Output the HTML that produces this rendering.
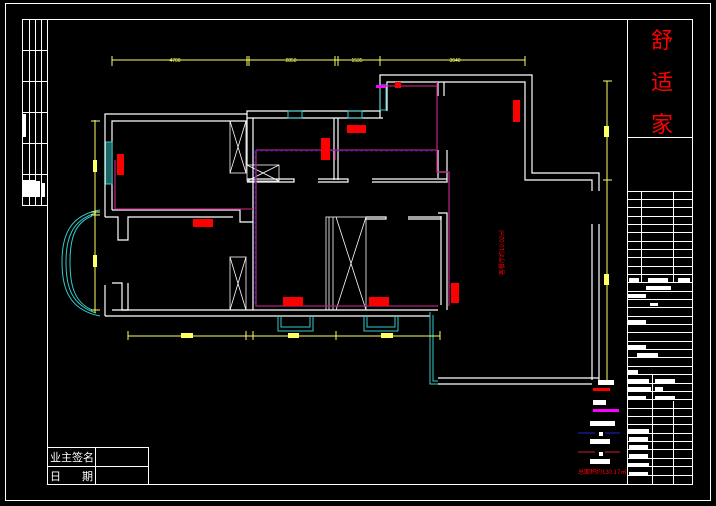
<!DOCTYPE html>
<html><head><meta charset="utf-8"><style>
html,body{margin:0;padding:0;background:#000;}
svg{display:block;}
text{font-family:"Liberation Sans","Noto Sans CJK SC",sans-serif;}
</style></head><body>
<svg width="716" height="506" viewBox="0 0 716 506" xmlns="http://www.w3.org/2000/svg">
<rect width="716" height="506" fill="#000"/>
<g fill="none" stroke="#fff" stroke-width="1">
<rect x="5.5" y="3.5" width="705" height="497"/>
<rect x="47.5" y="19.5" width="645" height="465"/>
<!-- left strip -->
<rect x="22.5" y="19.5" width="25" height="186"/>
<path d="M29.5 19.5V205.5M35.5 19.5V205.5M41.5 19.5V205.5M22.5 50.5H47.5M22.5 81.5H47.5M22.5 112.5H47.5M22.5 143.5H47.5M22.5 174.5H47.5"/>
<!-- title block -->
<path d="M627.5 19.5V484.5M627.5 137.5H692.5M627.5 191.5H692.5"/>
<path d="M641.5 191.5V282M673.5 191.5V282"/>
<path d="M627.5 199.5H692.5M627.5 207.5H692.5M627.5 216.5H692.5M627.5 224.5H692.5M627.5 232.5H692.5M627.5 241.5H692.5M627.5 249.5H692.5M627.5 257.5H692.5M627.5 266.5H692.5M627.5 274.5H692.5M627.5 282.5H692.5M627.5 291.5H692.5M627.5 299.5H692.5M627.5 307.5H692.5M627.5 316.5H692.5M627.5 324.5H692.5M627.5 332.5H692.5M627.5 341.5H692.5M627.5 349.5H692.5M627.5 357.5H692.5M627.5 366.5H692.5M627.5 374.5H692.5M627.5 383.5H692.5M627.5 391.5H692.5M627.5 399.5H692.5M627.5 408.5H692.5M627.5 416.5H692.5M627.5 424.5H692.5M627.5 433.5H692.5M627.5 441.5H692.5M627.5 449.5H692.5M627.5 458.5H692.5M627.5 466.5H692.5M627.5 475.5H692.5"/>
<path d="M652.5 374.5V484.5M673.5 401V484.5"/>
<!-- bottom-left table -->
<rect x="47.5" y="447.5" width="101" height="37"/>
<path d="M47.5 466.5H148.5M95.5 447.5V484.5"/>
</g>
<g fill="#fff">
<rect x="22" y="114" width="4" height="23"/>
<rect x="22" y="180" width="13" height="17"/><rect x="36" y="181" width="4" height="16"/><rect x="41" y="183" width="4" height="14"/>
<rect x="629" y="278" width="10" height="4"/><rect x="648" y="278" width="20" height="4"/><rect x="678" y="278" width="12" height="4"/>
<rect x="646" y="286" width="25" height="4"/><rect x="628" y="294" width="18" height="4"/><rect x="650" y="303" width="8" height="3"/>
<rect x="628" y="320" width="18" height="4"/><rect x="628" y="345" width="18" height="4"/><rect x="637" y="353" width="21" height="4"/>
<rect x="628" y="370" width="10" height="4"/><rect x="628" y="379" width="21" height="4"/><rect x="655" y="379" width="20" height="4"/>
<rect x="628" y="387" width="23" height="4"/><rect x="655" y="387" width="8" height="4"/><rect x="628" y="396" width="18" height="4"/><rect x="655" y="396" width="20" height="4"/>
<rect x="627" y="429" width="22" height="4"/><rect x="629" y="437" width="19" height="4"/><rect x="629" y="445" width="19" height="4"/><rect x="629" y="454" width="19" height="4"/><rect x="627" y="463" width="22" height="4"/><rect x="629" y="472" width="19" height="4"/>
<rect x="598" y="380" width="16" height="5"/><rect x="593" y="400" width="13" height="5"/><rect x="590" y="421" width="25" height="5"/><rect x="590" y="439" width="20" height="5"/><rect x="590" y="459" width="20" height="5"/>
<rect x="599" y="432" width="4" height="4"/><rect x="599" y="452" width="4" height="4"/>
</g>
<g fill="#f00" font-family="'Liberation Serif','Noto Serif CJK SC',serif" font-size="22" text-anchor="middle">
<text x="662" y="48">舒</text><text x="662" y="90">适</text><text x="662" y="132">家</text>
</g>
<g fill="#fff" font-size="11">
<text x="50" y="461">业主签名</text><text x="50" y="480">日</text><text x="82" y="480">期</text>
</g>
<!-- walls -->
<g fill="none" stroke="#fff" stroke-width="1.2">
<path d="M105 212V114H247V111H380V75H532V173H599V191"/>
<path d="M112 210V121H247M247 118H383M387 111V82H525V180H592V191"/>
<path d="M247 114V165M253 118V310M380 111V118"/>
<path d="M105 316H430M112 310H253M105 217H118V240H128V217H233M112 210H240V222H253"/>
<path d="M105 212V217M105 285V316M112 283H122V310H128V283"/>
<path d="M253 310H438M334 118V180M338 118V180M247 179H294V182H247M318 179H348V182H318M372 179H447V182H372M438 150V178M447 150V182M438 172H447"/>
<path d="M438 213H447V310M441 216V305"/>
<path d="M366 217H386V219H366M408 217H441V219H408"/>
<path d="M592 224V380M599 224V380M438 378H599M438 384H592"/>
<path d="M438 82V96M444 82V96"/>
</g>
<g fill="none" stroke="#fff" stroke-width="0.8">
<rect x="230" y="121" width="16" height="52"/><path d="M230 121L246 173M246 121L230 173"/>
<rect x="247" y="165" width="32" height="16"/><path d="M247 165L279 181M279 165L247 181"/>
<rect x="230" y="257" width="16" height="53"/><path d="M230 257L246 310M246 257L230 310"/>
<rect x="326" y="217" width="40" height="93"/><path d="M336 217L366 310M366 217L336 310M329 217V310M333 217V310"/>
</g>
<!-- cyan -->
<g fill="none" stroke="#3cc" stroke-width="1">
<rect x="106" y="142" width="6" height="42"/><path d="M108 142V184M110 142V184"/>
<rect x="288" y="111" width="14" height="7"/><rect x="348" y="111" width="14" height="7"/><rect x="380" y="85" width="6" height="25"/>
<path d="M100 210C70 215 62 235 62 262C62 290 70 310 100 316M96 213C72 220 66 238 66 262C66 288 72 305 96 313M92 216C74 223 70 240 70 262C70 285 74 302 92 310"/>
<path d="M278 316V331H313V316M281 316V327H310V316M364 316V331H398V316M367 316V327H395V316"/>
<path d="M430 312V384H438M433 315V381H438"/>
</g>
<!-- pipes -->
<g fill="none" stroke-width="1.3">
<path d="M115 160V209H253M256 150H437M256 150V306H438V306M437 82V172H449V306M386 86H437M335 150V160" stroke="#b0207a"/>
<path d="M255 151V305M255 151H436" stroke="#22c" stroke-dasharray="3 2" stroke-width="0.8"/>
</g>
<!-- red units -->
<g fill="#f00">
<rect x="117" y="154" width="7" height="21"/><rect x="193" y="219" width="20" height="8"/>
<rect x="283" y="297" width="20" height="9"/><rect x="369" y="297" width="20" height="9"/>
<rect x="321" y="138" width="9" height="22"/><rect x="347" y="125" width="19" height="8"/>
<rect x="513" y="100" width="7" height="22"/><rect x="451" y="283" width="8" height="20"/>
<rect x="395" y="82" width="6" height="6"/><rect x="593" y="388" width="17" height="3"/>
</g>
<rect x="376" y="85" width="10" height="3" fill="#f0f"/><rect x="593" y="409" width="26" height="3" fill="#f0f"/>
<path d="M578 433H595M605 433H620" stroke="#22c"/><path d="M578 452H595M605 452H620" stroke="#c22"/>
<text x="578" y="474" fill="#f00" font-size="6">总面积约130.17㎡</text>
<text x="504" y="275" fill="#f00" font-size="6" transform="rotate(-90 504 275)">客餐厅约10.02㎡</text>
<!-- dims -->
<g stroke="#ff6" fill="none" stroke-width="1">
<path d="M112 60H525M112 56V66M247 56V66M249 56V66M335 56V66M338 56V66M380 56V66M525 56V66"/>
<path d="M95 120V313M91 121H100M91 212H100M91 215H100M91 310H100"/>
<path d="M607 81V380M603 81H612M603 180H612"/>
<path d="M128 336H440M128 331V340M246 331V340M253 331V340M336 331V340M440 331V340"/>
</g>
<g fill="#ff6">
<rect x="181" y="333" width="12" height="5"/><rect x="288" y="333" width="11" height="5"/><rect x="381" y="333" width="12" height="5"/>
<rect x="604" y="126" width="5" height="11"/><rect x="604" y="274" width="5" height="11"/>
<rect x="93" y="160" width="4" height="12"/><rect x="93" y="255" width="4" height="12"/>
</g>
<g fill="#ff6" font-size="5" text-anchor="middle">
<text x="175" y="62">4700</text><text x="291" y="62">2850</text><text x="357" y="62">1535</text><text x="455" y="62">3040</text>
</g>
</svg>
</body></html>
